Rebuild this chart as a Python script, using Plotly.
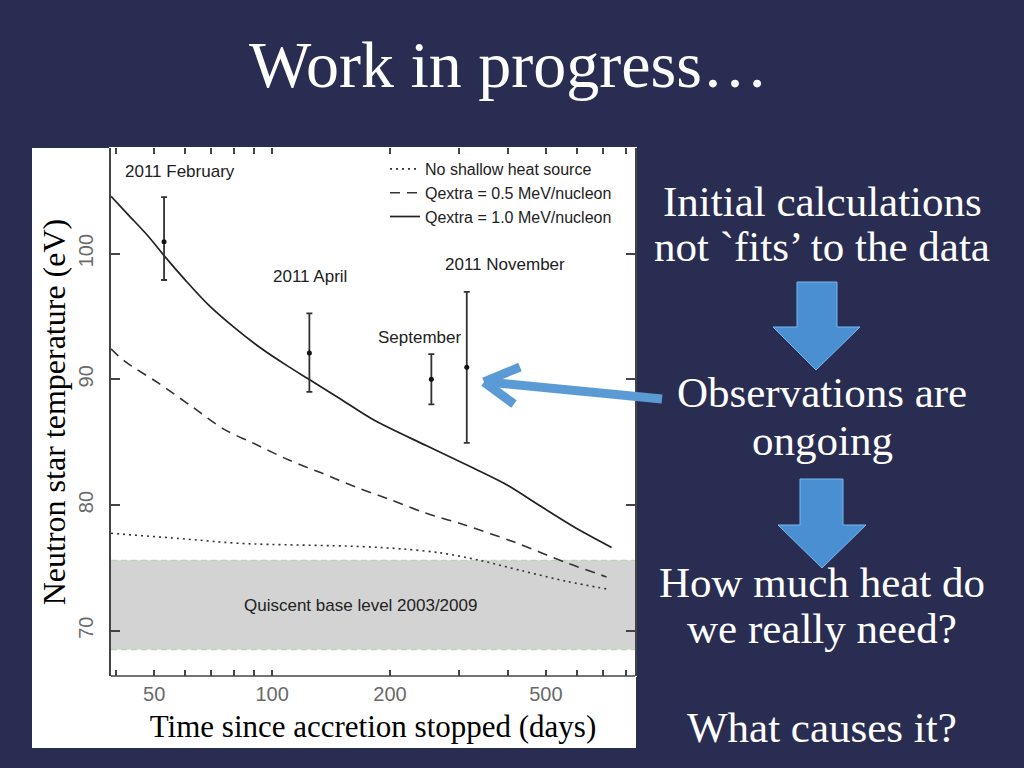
import math
import plotly.graph_objects as go

W, H = 1024, 768

# ---- data ----
solid_days = [38.8, 42.9, 48.3, 53.0, 59.9, 68.7, 80.3, 93.9, 109.9, 124.5, 150.2, 181.4, 248.1, 326.2, 397, 482.8, 587, 735.5]
solid_temp = [104.56, 103.1, 101.38, 99.84, 97.93, 95.94, 94.09, 92.45, 91.03, 89.98, 88.39, 86.78, 84.71, 82.94, 81.61, 79.94, 78.3, 76.63]

dashed_days = [38.8, 42.1, 51.2, 62.3, 75.7, 89.6, 110.0, 133.9, 163.5, 200.9, 246.6, 307.6, 416.9, 561, 714]
dashed_temp = [92.42, 91.43, 89.71, 87.85, 86.0, 84.92, 83.6, 82.54, 81.43, 80.42, 79.36, 78.45, 77.03, 75.44, 74.28]

dotted_days = [38.8, 60, 82.8, 167.7, 216, 268, 339, 437.5, 564.6, 721]
dotted_temp = [77.75, 77.3, 76.95, 76.7, 76.5, 76.2, 75.6, 74.75, 73.93, 73.3]

obs_days = [53.0, 124.5, 255.0, 314.0]
obs_temp = [100.95, 92.1, 90.0, 90.95]
obs_err_plus = [3.55, 3.15, 2.0, 6.0]
obs_err_minus = [3.05, 3.1, 2.0, 6.0]
obs_labels = ["2011 February", "2011 April", "September", "2011 November"]

base_low, base_high = 68.5, 75.6

x_tickvals = [40, 50, 60, 70, 80, 90, 100, 200, 300, 400, 500, 600, 700, 800]
x_ticktext = ["", "50", "", "", "", "", "100", "200", "", "", "500", "", "", ""]
x_long_ticks = [100]
y_tickvals = [70, 80, 90, 100]

legend_names = ["No shallow heat source", "Qextra = 0.5 MeV/nucleon", "Qextra = 1.0 MeV/nucleon"]

title_text = "Work in progress…"
side_lines = [
    ("Initial calculations", 202),
    ("not `fits’ to the data", 247),
    ("Observations are", 392),
    ("ongoing", 440),
    ("How much heat do", 582),
    ("we really need?", 628),
    ("What causes it?", 727),
]

# ---- helpers (pixel -> paper) ----
def px(x):
    return x / W

def py(y):
    return 1 - y / H

def path(points):
    return "M " + " L ".join(f"{px(x):.5f},{py(y):.5f}" for x, y in points) + " Z"

SANS = "Liberation Sans, Arial, sans-serif"
SERIF = "Liberation Serif, Times New Roman, serif"

PLOT_TOP, PLOT_BOTTOM = 148, 676
plot_h = PLOT_BOTTOM - PLOT_TOP

fig = go.Figure()

fig.add_trace(go.Scatter(x=dotted_days, y=dotted_temp, mode="lines", name=legend_names[0],
                         line=dict(color="#333333", width=1.6, dash="2px,4px", shape="spline", smoothing=0.9)))
fig.add_trace(go.Scatter(x=dashed_days, y=dashed_temp, mode="lines", name=legend_names[1],
                         line=dict(color="#333333", width=1.6, dash="10px,7px", shape="spline", smoothing=0.9)))
fig.add_trace(go.Scatter(x=solid_days, y=solid_temp, mode="lines", name=legend_names[2],
                         line=dict(color="#222222", width=1.7, shape="spline", smoothing=0.9)))
fig.add_trace(go.Scatter(x=obs_days, y=obs_temp, mode="markers", showlegend=False,
                         marker=dict(color="#111111", size=5),
                         error_y=dict(type="data", symmetric=False, array=obs_err_plus,
                                      arrayminus=obs_err_minus, color="#333333",
                                      thickness=1.8, width=3)))

shapes = []
# white image box
shapes.append(dict(type="rect", xref="paper", yref="paper", x0=px(32), x1=px(636), y0=py(748), y1=py(148),
                   fillcolor="white", line=dict(width=0), layer="below"))
# quiescent band
shapes.append(dict(type="rect", xref="x domain", yref="y", x0=0, x1=1, y0=base_low, y1=base_high,
                   fillcolor="#d3d3d3", line=dict(width=0), layer="below"))
for yv in (base_low, base_high):
    shapes.append(dict(type="line", xref="x domain", yref="y", x0=0, x1=1, y0=yv, y1=yv,
                       line=dict(color="#b5d9a8", width=1.2, dash="6px,4px"), layer="below"))
# bottom axis line
shapes.append(dict(type="line", xref="x domain", yref="y domain", x0=0, x1=1, y0=0, y1=0,
                   line=dict(color="#444444", width=1.5)))
# longer decade ticks (bottom and top)
for tv in x_long_ticks:
    lx = math.log10(tv)
    shapes.append(dict(type="line", xref="x", yref="y domain", x0=lx, x1=lx, y0=0, y1=12 / plot_h,
                       line=dict(color="#444444", width=1.5)))
    shapes.append(dict(type="line", xref="x", yref="y domain", x0=lx, x1=lx, y0=1, y1=1 - 12 / plot_h,
                       line=dict(color="#444444", width=1.5)))
# big left-pointing arrow
arrow_col = "#5b9bd5"
for (x0, y0, x1, y1) in [(662, 399, 488, 382), (484, 382, 520, 367), (484, 382, 514, 404)]:
    shapes.append(dict(type="line", xref="paper", yref="paper", x0=px(x0), y0=py(y0), x1=px(x1), y1=py(y1),
                       line=dict(color=arrow_col, width=9)))
# down arrows
for (sx0, sx1, top, hy, hx0, hx1, tipx, tipy) in [(797, 837, 282, 327, 773, 860, 816, 370),
                                                   (800, 843, 479, 525, 778, 866, 822, 568)]:
    shapes.append(dict(type="path", xref="paper", yref="paper",
                       path=path([(sx0, top), (sx1, top), (sx1, hy), (hx1, hy), (tipx, tipy),
                                  (hx0, hy), (sx0, hy)]),
                       fillcolor="#4a8fd2", line=dict(color="#7ab8ec", width=1)))

annotations = []
# chart labels (x in log10 units)
lab_pos = [
    (1.6199, 106.55, "left"),
    (2.097, 98.16, "center"),
    (2.375, 93.29, "center"),
    (2.594, 99.12, "center"),
]
for (lx, ly, anc), txt in zip(lab_pos, obs_labels):
    annotations.append(dict(x=lx, y=ly, xref="x", yref="y", text=txt, showarrow=False, xanchor=anc,
                            yanchor="middle", font=dict(family=SANS, size=17, color="#222222")))
annotations.append(dict(x=2.2245, y=72.0, xref="x", yref="y", text="Quiscent base level 2003/2009",
                        showarrow=False, xanchor="center", yanchor="middle",
                        font=dict(family=SANS, size=17, color="#222222")))
# slide title
annotations.append(dict(x=px(508), y=py(65), xref="paper", yref="paper", text=title_text, showarrow=False,
                        xanchor="center", yanchor="middle", font=dict(family=SERIF, size=66, color="white")))
for txt, yy in side_lines:
    annotations.append(dict(x=px(822), y=py(yy), xref="paper", yref="paper", text=txt, showarrow=False,
                            xanchor="center", yanchor="middle", font=dict(family=SERIF, size=43, color="white")))

fig.update_layout(
    width=W, height=H, autosize=False,
    margin=dict(l=0, r=0, t=0, b=0),
    paper_bgcolor="#2a2d52", plot_bgcolor="white",
    showlegend=True,
    legend=dict(x=px(385), y=py(152), xanchor="left", yanchor="top", bgcolor="rgba(0,0,0,0)",
                font=dict(family=SANS, size=16, color="#222222"), tracegroupgap=0),
    shapes=shapes, annotations=annotations,
    xaxis=dict(type="log", range=[math.log10(38.8), math.log10(844)], domain=[px(111), px(635)],
               tickmode="array", tickvals=x_tickvals, ticktext=x_ticktext,
               ticks="inside", ticklen=6, tickwidth=1.5, tickcolor="#444444",
               mirror="ticks", showline=True, linecolor="white", linewidth=1,
               showgrid=False, zeroline=False, ticklabelstandoff=0,
               tickfont=dict(family=SANS, size=20, color="#6a6a6a"),
               title=dict(text="Time since accretion stopped (days)", standoff=11,
                          font=dict(family=SERIF, size=31, color="black"))),
    yaxis=dict(range=[66.4, 108.4], domain=[py(PLOT_BOTTOM), py(PLOT_TOP)],
               tickmode="array", tickvals=y_tickvals, ticks="inside", ticklen=9, tickwidth=1.5,
               tickcolor="#444444", tickangle=-90, mirror="ticks", showline=True,
               linecolor="#444444", linewidth=1.5, showgrid=False, zeroline=False,
               ticklabelstandoff=8,
               tickfont=dict(family=SANS, size=20, color="#6a6a6a"),
               title=dict(text="Neutron star temperature (eV)", standoff=0,
                          font=dict(family=SERIF, size=32, color="black"))),
)

fig.write_html("out.html", config={"displayModeBar": False},
               post_script="document.body.style.margin='0';document.body.style.overflow='hidden';")
